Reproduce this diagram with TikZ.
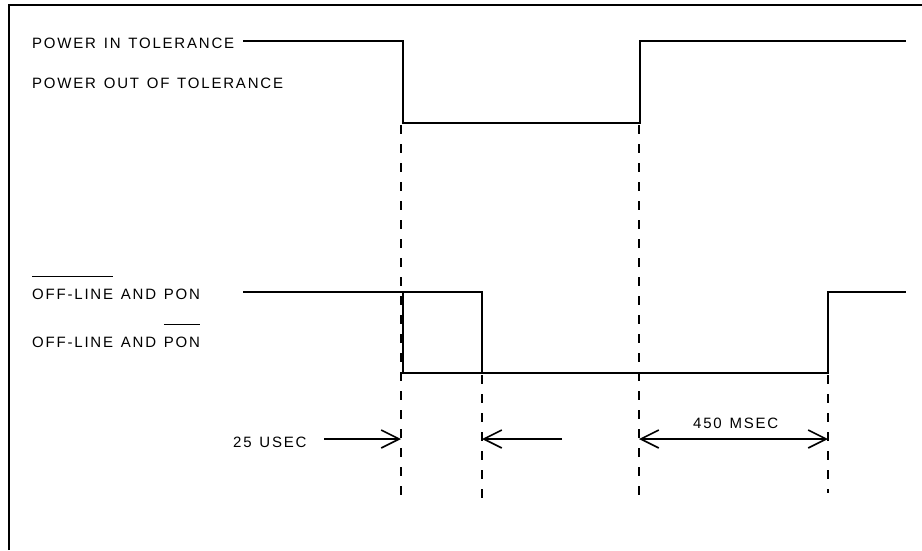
\documentclass[tikz,border=0pt]{standalone}
\usepackage{fontspec}
\setmainfont{Liberation Sans}[LetterSpace=12,WordSpace=1.3]
\usetikzlibrary{arrows.meta}
\newsavebox\ovbox
\newcommand{\ovl}[1]{\sbox\ovbox{#1}\rlap{\rule[22pt]{\wd\ovbox}{1.4pt}}\usebox\ovbox}
\tikzset{
  sig/.style={line width=1.8pt},
  guide/.style={line width=2.4pt, dash pattern=on 9pt off 10pt},
  lbl/.style={font=\fontsize{15}{17}\selectfont, inner sep=0pt, anchor=base west},
  barb/.tip={Straight Barb[length=18pt,width=18pt,line width=1.6pt]},
  tip/.style={line width=1.6pt, -barb},
  tips/.style={line width=1.6pt, barb-barb},
}
\begin{document}
\begin{tikzpicture}[x=10pt,y=-10pt]
    \useasboundingbox (0,0) rectangle (92.2,55);
    % frame
    \draw[line width=2pt] (0.85,55) -- (0.85,0.5) -- (92.2,0.5);

    % labels
    \node[lbl] (pin) at (3.2,4.8) {POWER IN TOLERANCE};
    \node[lbl] (pout) at (3.2,8.8) {POWER OUT OF TOLERANCE};
    \node[lbl] (offpon) at (3.2,29.9) {\ovl{OFF-LINE} AND PON};
    \node[lbl] (offnpon) at (3.2,34.7) {OFF-LINE AND \ovl{PON}};

    % power signal
    \draw[sig] (24.3,4.1) -- (40.3,4.1) -- (40.3,12.3) -- (64.0,12.3)
        -- (64.0,4.1) -- (90.6,4.1);
    % off-line signals
    \draw[sig] (24.3,29.2) -- (48.2,29.2) -- (48.2,37.3);
    \draw[sig] (40.3,29.2) -- (40.3,37.3) -- (82.8,37.3) -- (82.8,29.2)
        -- (90.6,29.2);

    % event times
    \coordinate (t1) at (40.1,43.9);
    \coordinate (t2) at (48.2,43.9);
    \coordinate (t3) at (63.9,43.9);
    \coordinate (t4) at (82.8,43.9);

    % guides
    \draw[guide] (40.1,12.5) -- (40.1,49.5);
    \draw[guide] (63.9,12.5) -- (63.9,50.0);
    \draw[guide] (48.2,37.5) -- (48.2,50.0);
    \draw[guide] (82.8,37.5) -- (82.8,49.3);

    % timing marks
    \node[lbl] (usec) at (23.3,44.7) {25 USEC};
    \draw[tip] (32.4,43.9) -- (t1);
    \draw[tip] (56.2,43.9) -- (t2);
    \node[lbl] (msec) at (69.3,42.8) {450 MSEC};
    \draw[tips] (t3) -- (t4);
\end{tikzpicture}
\end{document}
